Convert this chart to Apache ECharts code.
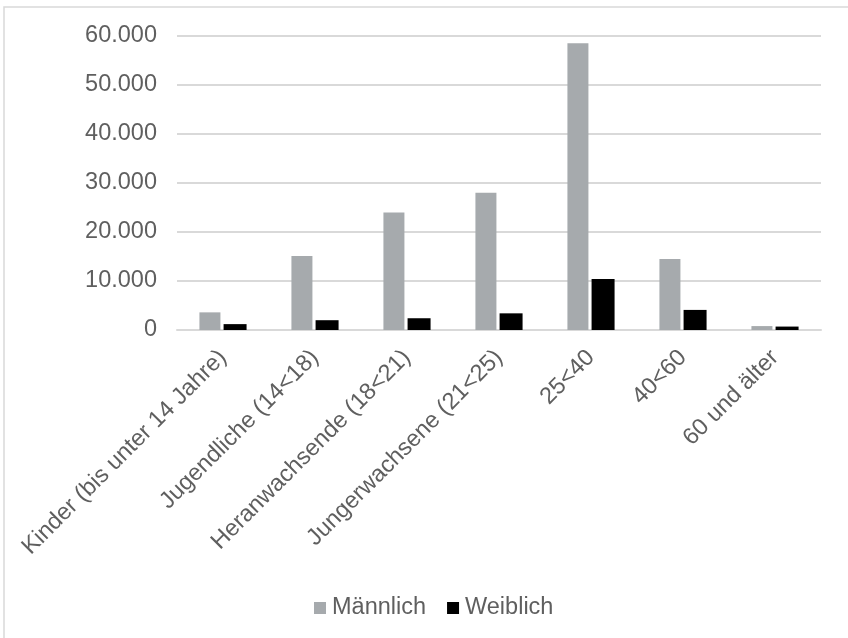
<!DOCTYPE html>
<html>
<head>
<meta charset="utf-8">
<script src="https://cdn.jsdelivr.net/npm/echarts@6/dist/echarts.min.js"></script>
<style>
  html, body { margin: 0; padding: 0; background: #fff; }
  #chart { width: 848px; height: 638px; }
</style>
</head>
<body>
<div id="chart"></div>
<script>
// Altersgruppen und Anzahl nach Geschlecht
const categories = [
  'Kinder (bis unter 14 Jahre)',
  'Jugendliche (14<18)',
  'Heranwachsende (18<21)',
  'Jungerwachsene (21<25)',
  '25<40',
  '40<60',
  '60 und älter'
];
const maleValues = [3600, 15100, 24000, 28000, 58500, 14500, 800];
const femaleValues = [1200, 2000, 2400, 3400, 10400, 4100, 700];
const seriesNames = ['Männlich', 'Weiblich'];

const textColor = '#5f5f5f';
const lineColor = '#d9d9d9';
const fontFamily = '"Liberation Sans", Arial, sans-serif';
const fontSize = 23.5;

function formatThousands(v) {
  return String(v).replace(/\B(?=(\d{3})+(?!\d))/g, '.');
}

const chart = echarts.init(document.getElementById('chart'), null, { renderer: 'canvas' });
chart.setOption({
  backgroundColor: '#ffffff',
  animation: false,
  textStyle: { fontFamily: fontFamily },
  graphic: [{
    type: 'rect',
    shape: { x: 4, y: 7, width: 900, height: 700 },
    style: { fill: 'none', stroke: lineColor, lineWidth: 1.5 },
    silent: true
  }],
  grid: { left: 177, right: 27, top: 36, bottom: 308, containLabel: false },
  legend: {
    data: seriesNames,
    left: 309,
    top: 591,
    itemWidth: 12,
    itemHeight: 12,
    itemGap: 21,
    icon: 'rect',
    textStyle: { color: textColor, fontSize: fontSize, fontFamily: fontFamily, padding: [0, 0, 0, 1] }
  },
  xAxis: {
    type: 'category',
    data: categories,
    axisLine: { show: true, lineStyle: { color: lineColor, width: 2 } },
    axisTick: { show: false },
    axisLabel: {
      interval: 0,
      rotate: 45,
      margin: 24,
      color: textColor,
      fontSize: fontSize,
      fontFamily: fontFamily
    }
  },
  yAxis: {
    type: 'value',
    min: 0,
    max: 60000,
    interval: 10000,
    axisLine: { show: false },
    axisTick: { show: false },
    splitLine: { show: true, lineStyle: { color: lineColor, width: 2 } },
    axisLabel: {
      margin: 20,
      color: textColor,
      fontSize: fontSize,
      fontFamily: fontFamily,
      formatter: formatThousands
    }
  },
  series: [
    {
      name: seriesNames[0],
      type: 'bar',
      data: maleValues,
      barWidth: 21,
      barGap: '15%',
      itemStyle: { color: '#a6aaad' }
    },
    {
      name: seriesNames[1],
      type: 'bar',
      data: femaleValues,
      barWidth: 23,
      itemStyle: { color: '#000000' }
    }
  ]
});
</script>
</body>
</html>
